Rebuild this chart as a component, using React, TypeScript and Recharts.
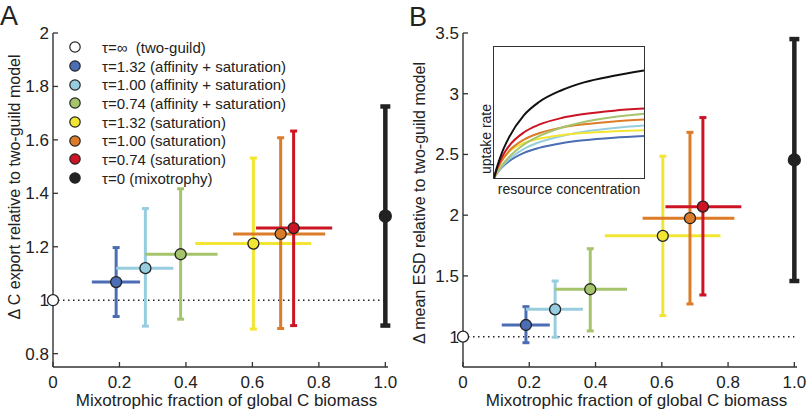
import React from 'react';
import {
  ScatterChart,
  Scatter,
  XAxis,
  YAxis,
  ErrorBar,
  ReferenceLine,
  Legend,
  LineChart,
  Line,
} from 'recharts';

// ---------- data ----------
const seriesLabels = [
  'τ=∞  (two-guild)',
  'τ=1.32 (affinity + saturation)',
  'τ=1.00 (affinity + saturation)',
  'τ=0.74 (affinity + saturation)',
  'τ=1.32 (saturation)',
  'τ=1.00 (saturation)',
  'τ=0.74 (saturation)',
  'τ=0 (mixotrophy)',
];
const seriesColors = ['#ffffff', '#4b6db3', '#98cde0', '#a5c46c', '#f3e533', '#dd7c28', '#cc1424', '#222222'];

const mixFraction = [0, 0.19, 0.278, 0.384, 0.603, 0.685, 0.724, 1.0];
const mixFractionLow = [0, 0.117, 0.19, 0.277, 0.428, 0.542, 0.611, 1.0];
const mixFractionHigh = [0, 0.262, 0.362, 0.495, 0.777, 0.819, 0.84, 1.0];

const exportRatio = [1.0, 1.068, 1.12, 1.172, 1.212, 1.248, 1.27, 1.315];
const exportLow = [1.0, 0.939, 0.903, 0.929, 0.892, 0.894, 0.905, 0.905];
const exportHigh = [1.0, 1.197, 1.343, 1.417, 1.532, 1.608, 1.633, 1.725];

const esdRatio = [1.0, 1.096, 1.225, 1.39, 1.83, 1.975, 2.07, 2.455];
const esdLow = [1.0, 0.95, 0.995, 1.047, 1.173, 1.269, 1.343, 1.458];
const esdHigh = [1.0, 1.247, 1.458, 1.724, 2.486, 2.682, 2.804, 3.45];

const xTicks = [0, 0.2, 0.4, 0.6, 0.8, 1.0];
const exportTicks = [0.8, 1, 1.2, 1.4, 1.6, 1.8, 2];
const esdTicks = [1, 1.5, 2, 2.5, 3, 3.5];

// inset: uptake rate vs resource concentration
const resource = [0, 0.02, 0.05, 0.1, 0.2, 0.3, 0.45, 0.6, 0.8, 1.0];
const uptakeBlue = [0, 0.035, 0.077, 0.128, 0.192, 0.23, 0.266, 0.288, 0.307, 0.32];
const uptakeLightBlue = [0, 0.037, 0.083, 0.143, 0.222, 0.273, 0.321, 0.353, 0.381, 0.4];
const uptakeGreen = [0, 0.04, 0.091, 0.16, 0.256, 0.32, 0.384, 0.427, 0.465, 0.49];
const uptakeYellow = [0, 0.067, 0.133, 0.2, 0.267, 0.3, 0.327, 0.343, 0.356, 0.365];
const uptakeOrange = [0, 0.06, 0.128, 0.205, 0.293, 0.342, 0.385, 0.41, 0.432, 0.446];
const uptakeRed = [0, 0.072, 0.153, 0.244, 0.349, 0.407, 0.458, 0.488, 0.514, 0.53];
const uptakeBlack = [0, 0.083, 0.185, 0.31, 0.48, 0.58, 0.67, 0.73, 0.78, 0.82];

// ---------- style ----------
const FONT = '"Liberation Sans", Arial, Helvetica, sans-serif';
const AXIS = '#333333';
const TEXT = '#222222';
const TL = 5;

const fmtX = (v: number) => (v === 1 ? '1.0' : String(v));

const LeftTick = (p: any) => (
  <g>
    <line x1={p.x} x2={p.x + TL} y1={p.y} y2={p.y} stroke={AXIS} strokeWidth={1.3} />
    <text x={p.x - 4} y={p.y} dy="0.35em" textAnchor="end" fontSize={17} fontFamily={FONT} fill={TEXT}>
      {String(p.payload.value)}
    </text>
  </g>
);
const RightTick = (p: any) => (
  <line x1={p.x} x2={p.x - TL} y1={p.y} y2={p.y} stroke={AXIS} strokeWidth={1.3} />
);
const BottomTick = (p: any) => (
  <g>
    <line x1={p.x} x2={p.x} y1={p.y} y2={p.y - TL} stroke={AXIS} strokeWidth={1.3} />
    <text x={p.x} y={p.y + 14.7} dy="0.35em" textAnchor="middle" fontSize={17} fontFamily={FONT} fill={TEXT}>
      {fmtX(p.payload.value)}
    </text>
  </g>
);
const TopTick = (p: any) => (
  <line x1={p.x} x2={p.x} y1={p.y} y2={p.y + TL} stroke={AXIS} strokeWidth={1.3} />
);

const LegendContent = () => (
  <div style={{ fontFamily: FONT, fontSize: 15, color: TEXT, width: 320 }}>
    {seriesLabels.map((label, idx) => (
      <div key={label} style={{ display: 'flex', alignItems: 'center', height: 18.7, whiteSpace: 'pre' }}>
        <svg width={20} height={14} style={{ display: 'block', flexShrink: 0 }}>
          <circle cx={10} cy={7} r={5.2} fill={seriesColors[idx]} stroke="#222" strokeWidth={1.2} />
        </svg>
        <span style={{ marginLeft: 17 }}>{label}</span>
      </div>
    ))}
  </div>
);

type PanelProps = {
  width: number;
  rightMargin: number;
  yAxisWidth: number;
  yMean: number[];
  yLow: number[];
  yHigh: number[];
  yDomain: [number, number];
  yTicks: number[];
  showLegend: boolean;
};

const xDomain: [number, number] = [0, 1.008];
const X_AXIS_H = 43;
const TOP = 33;

function Panel({ width, rightMargin, yAxisWidth, yMean, yLow, yHigh, yDomain, yTicks, showLegend }: PanelProps) {
  const rows = mixFraction.map((x, i) => ({
    x,
    y: yMean[i],
    xErr: [x - mixFractionLow[i], mixFractionHigh[i] - x],
    yErr: [yMean[i] - yLow[i], yHigh[i] - yMean[i]],
  }));
  const axisLine = { stroke: AXIS, strokeWidth: 1.4 };
  return (
    <div style={{ position: 'relative', width, height: 410 }}>
      {/* frame, ticks, reference line and error bars */}
      <div style={{ position: 'absolute', left: 0, top: 0 }}>
        <ScatterChart width={width} height={410} margin={{ top: TOP, right: rightMargin, bottom: 0, left: 0 }}>
          <XAxis
            type="number"
            dataKey="x"
            domain={xDomain}
            ticks={xTicks}
            interval={0}
            height={X_AXIS_H}
            tickSize={0}
            tickMargin={0}
            tickLine={false}
            tick={<BottomTick />}
            axisLine={axisLine}
          />
          <XAxis
            xAxisId="top"
            orientation="top"
            type="number"
            dataKey="x"
            domain={xDomain}
            allowDataOverflow
            ticks={xTicks}
            interval={0}
            height={0}
            tickSize={0}
            tickMargin={0}
            tickLine={false}
            tick={<TopTick />}
            axisLine={axisLine}
          />
          <YAxis
            type="number"
            dataKey="y"
            domain={yDomain}
            ticks={yTicks}
            interval={0}
            width={yAxisWidth}
            tickSize={0}
            tickMargin={0}
            tickLine={false}
            tick={<LeftTick />}
            axisLine={axisLine}
          />
          <YAxis
            yAxisId="right"
            orientation="right"
            type="number"
            dataKey="y"
            domain={yDomain}
            allowDataOverflow
            ticks={yTicks}
            interval={0}
            width={0}
            tickSize={0}
            tickMargin={0}
            tickLine={false}
            tick={<RightTick />}
            axisLine={axisLine}
          />
          <ReferenceLine
            segment={[
              { x: 0, y: 1 },
              { x: 1, y: 1 },
            ]}
            stroke="#222"
            strokeWidth={1.5}
            strokeDasharray="1.5 3.5"
          />
          {rows.map((r, i) =>
            i === 0 ? null : (
              <Scatter
                key={'err' + i}
                data={[r]}
                legendType="none"
                isAnimationActive={false}
                fill={seriesColors[i]}
                shape={() => <g />}
              >
                {i < 7 && (
                  <ErrorBar dataKey="xErr" direction="x" width={0} stroke={seriesColors[i]} strokeWidth={3} isAnimationActive={false} />
                )}
                <ErrorBar
                  dataKey="yErr"
                  direction="y"
                  width={i === 7 ? 5 : 3.5}
                  stroke={seriesColors[i]}
                  strokeWidth={i === 7 ? 4.5 : 3}
                  isAnimationActive={false}
                />
              </Scatter>
            )
          )}
        </ScatterChart>
      </div>
      {/* points and legend on top */}
      <div style={{ position: 'absolute', left: 0, top: 0 }}>
        <ScatterChart
          width={width}
          height={410}
          margin={{ top: TOP, right: rightMargin, bottom: X_AXIS_H, left: yAxisWidth }}
        >
          <XAxis type="number" dataKey="x" domain={xDomain} hide />
          <YAxis type="number" dataKey="y" domain={yDomain} hide />
          {rows.map((r, i) => (
            <Scatter
              key={'pt' + i}
              name={seriesLabels[i]}
              data={[r]}
              fill={seriesColors[i]}
              isAnimationActive={false}
              shape={(p: any) => (
                <circle cx={p.cx} cy={p.cy} r={i === 7 ? 6 : 5.5} fill={seriesColors[i]} stroke="#222" strokeWidth={1.3} />
              )}
            />
          ))}
          {showLegend && (
            <Legend
              layout="vertical"
              align="center"
              verticalAlign="middle"
              content={<LegendContent />}
              wrapperStyle={{ left: 65, top: 38, width: 320, height: 'auto' }}
            />
          )}
        </ScatterChart>
      </div>
    </div>
  );
}

const insetRows = resource.map((r, i) => ({
  r,
  blue: uptakeBlue[i],
  lightBlue: uptakeLightBlue[i],
  yellow: uptakeYellow[i],
  orange: uptakeOrange[i],
  green: uptakeGreen[i],
  red: uptakeRed[i],
  black: uptakeBlack[i],
}));
const insetKeys: [string, string][] = [
  ['blue', '#4b6db3'],
  ['lightBlue', '#98cde0'],
  ['yellow', '#f3e533'],
  ['orange', '#dd7c28'],
  ['green', '#a5c46c'],
  ['red', '#cc1424'],
  ['black', '#111111'],
];

export default function App() {
  return (
    <div style={{ position: 'absolute', left: 0, top: 0, width: 807, height: 410, background: '#fff', overflow: 'hidden' }}>
      <div style={{ position: 'absolute', left: 0, top: 0 }}>
        <Panel
          width={400}
          rightMargin={12}
          yAxisWidth={53}
          yMean={exportRatio}
          yLow={exportLow}
          yHigh={exportHigh}
          yDomain={[0.75, 2]}
          yTicks={exportTicks}
          showLegend
        />
      </div>
      <div style={{ position: 'absolute', left: 400, top: 0 }}>
        <Panel
          width={407}
          rightMargin={10}
          yAxisWidth={63}
          yMean={esdRatio}
          yLow={esdLow}
          yHigh={esdHigh}
          yDomain={[0.75, 3.5]}
          yTicks={esdTicks}
          showLegend={false}
        />
      </div>
      <div
        style={{
          position: 'absolute',
          left: 493,
          top: 46,
          width: 152,
          height: 133,
          border: '1.3px solid #333',
          boxSizing: 'border-box',
          background: '#fff',
        }}
      >
        <LineChart width={150} height={131} data={insetRows} margin={{ top: 0, right: 0, bottom: 0, left: 0 }}>
          <XAxis type="number" dataKey="r" domain={[0, 1]} hide allowDataOverflow />
          <YAxis type="number" domain={[0, 1]} hide allowDataOverflow />
          {insetKeys.map(([k, c]) => (
            <Line key={k} type="monotone" dataKey={k} stroke={c} strokeWidth={2} dot={false} isAnimationActive={false} />
          ))}
        </LineChart>
      </div>
      <svg width={807} height={410} style={{ position: 'absolute', left: 0, top: 0, pointerEvents: 'none' }}>
        <text x={0} y={25} fontSize={27} fontFamily={FONT} fill={TEXT}>A</text>
        <text x={409} y={26} fontSize={27} fontFamily={FONT} fill={TEXT}>B</text>
        <text x={226.5} y={400} dy="0.35em" textAnchor="middle" fontSize={17} fontFamily={FONT} fill={TEXT}>
          Mixotrophic fraction of global C biomass
        </text>
        <text x={636.5} y={400} dy="0.35em" textAnchor="middle" fontSize={17} fontFamily={FONT} fill={TEXT}>
          Mixotrophic fraction of global C biomass
        </text>
        <text x={14} y={187} dy="0.35em" textAnchor="middle" fontSize={16} fontFamily={FONT} fill={TEXT} transform="rotate(-90 14 187)">
          Δ C export relative to two-guild model
        </text>
        <text x={419} y={203} dy="0.35em" textAnchor="middle" fontSize={16} fontFamily={FONT} fill={TEXT} transform="rotate(-90 419 203)">
          Δ mean ESD relative to two-guild model
        </text>
        <text x={486} y={139} dy="0.35em" textAnchor="middle" fontSize={14} fontFamily={FONT} fill={TEXT} transform="rotate(-90 486 139)">
          uptake rate
        </text>
        <text x={569} y={189} dy="0.35em" textAnchor="middle" fontSize={14} fontFamily={FONT} fill={TEXT}>
          resource concentration
        </text>
      </svg>
    </div>
  );
}
